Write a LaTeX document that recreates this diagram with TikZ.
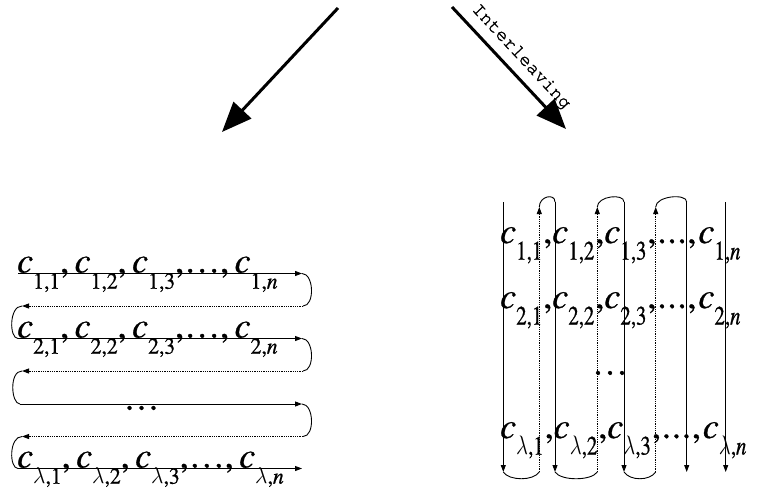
\RequirePackage{fix-cm}
\documentclass[tikz,border=0pt]{standalone}
\usepackage{graphicx}
\usepackage{fontspec}
\setmainfont{texgyretermes}[Extension=.otf, UprightFont=*-regular, ItalicFont=*-italic, BoldFont=*-bold, BoldItalicFont=*-bolditalic, FakeBold=0.8]
\newfontfamily\monofont{texgyrecursor}[Extension=.otf, UprightFont=*-regular, FakeBold=1.5]
\usetikzlibrary{arrows.meta}

% c with a lowered subscript (row-wise block and column-wise block)
\newcommand\ctL[1]{\textit{c}\raisebox{-0.45em}{\scalebox{0.6}[0.64]{#1}}}
\newcommand\ctR[1]{\textit{c}\raisebox{-0.46em}{\scalebox{0.58}[0.74]{#1}}\kern1pt}
\newcommand\lam{$\lambda$}
\newcommand\sepL{,\kern5.5pt}
\newcommand\dotsL{,…,\kern5.5pt}
\newcommand\dotsR{,\kern1pt.\kern1pt.\kern1pt.\kern1pt,\kern2pt}

\tikzset{
  thinline/.style={line width=0.9pt},
  dotline/.style={line width=0.9pt, dash pattern=on 0.9pt off 0.9pt},
  tip/.style={-{Triangle[length=7pt,width=5pt]}},
  bigarrow/.style={line width=3pt, -{Triangle[length=30pt,width=24pt]}},
  rowL/.style={inner sep=0pt, anchor=base west, font=\fontsize{36}{36}\selectfont},
  rowR/.style={inner sep=0pt, anchor=base west, font=\fontsize{36}{36}\selectfont},
}

\begin{document}
\begin{tikzpicture}[x=1pt,y=-1pt]
\useasboundingbox (0,0) rectangle (768,492);

% two big arrows from the top
\coordinate (la0) at (338,8);
\coordinate (la1) at (222,132);
\coordinate (ra0) at (452,7);
\coordinate (ra1) at (566,129);
\draw[bigarrow] (la0) -- (la1);
\draw[bigarrow] (ra0) -- (ra1);
\node[font=\monofont\fontsize{19}{19}\selectfont, rotate=-47, inner sep=0pt] (ilv) at (521,57) {Interleaving};

% ---------- row-by-row block ----------
\node[rowL] (ra) at (17,272.5) {\ctL{1,1}\sepL\ctL{1,2}\sepL\ctL{1,3}\dotsL\ctL{1,\textit{n}}};
\node[rowL] (rb) at (17,337.5) {\ctL{2,1}\sepL\ctL{2,2}\sepL\ctL{2,3}\dotsL\ctL{2,\textit{n}}};
\node[rowL, anchor=center] (rdots) at (141.5,408) {…};
\node[rowL] (rl) at (17,467.5) {\ctL{\lam,1}\sepL\ctL{\lam,2}\sepL\ctL{\lam,3}\dotsL\ctL{\lam,\textit{n}}};

\coordinate (s1w) at (18,273.5);  \coordinate (s1e) at (302,273.5);
\coordinate (d1e) at (303,306);   \coordinate (d1w) at (22,306);
\coordinate (s2w) at (18,338.5);  \coordinate (s2e) at (302,338.5);
\coordinate (d2e) at (303,371);   \coordinate (d2w) at (22,371);
\coordinate (s3w) at (20,404);    \coordinate (s3e) at (302,404);
\coordinate (d3e) at (303,436.5); \coordinate (d3w) at (22,436.5);
\coordinate (s4w) at (18,468.5);  \coordinate (s4e) at (302,468.5);

\foreach \a/\b in {s1w/s1e,s2w/s2e,s3w/s3e,s4w/s4e}
  \draw[thinline,tip] (\a) -- (\b);
\foreach \a/\b in {d1e/d1w,d2e/d2w,d3e/d3w}
  \draw[dotline,tip] (\a) -- (\b);
\foreach \a/\b in {s1e/d1e,s2e/d2e,s3e/d3e}
  \draw[thinline] (\a) .. controls +(12,0) and +(12,0) .. (\b);
\foreach \a/\b in {d1w/s2w,d2w/s3w,d3w/s4w}
  \draw[thinline] (\a) .. controls +(-13,0) and +(-9,0) .. (\b);

% ---------- column-by-column block ----------
\node[rowR] (ca) at (500,243) {\ctR{1,1},\ctR{1,2},\ctR{1,3}\dotsR\ctR{1,\textit{n}}};
\node[rowR] (cb) at (500,308) {\ctR{2,1},\ctR{2,2},\ctR{2,3}\dotsR\ctR{2,\textit{n}}};
\node[rowR, anchor=center] (cdots) at (610,373) {…};
\node[rowR] (cl) at (500,438) {\ctR{\lam,1},\ctR{\lam,2},\ctR{\lam,3}\dotsR\ctR{\lam,\textit{n}}};

% solid columns run downwards, dotted ones back upwards
\foreach \n/\x in {1/503.3,3/555,5/624,7/686.7,8/725.7}{
  \coordinate (t\n) at (\x,202);
  \coordinate (b\n) at (\x,472);
  \draw[thinline,tip] (t\n) -- (b\n);
}
\foreach \n/\x in {2/539.3,4/597.3,6/655.7}{
  \coordinate (b\n) at (\x,472);
  \coordinate (t\n) at (\x,207);
  \draw[dotline,tip] (b\n) -- (t\n);
}
% turn-arounds at the bottom and top
\foreach \a/\b in {b1/b2,b3/b4,b5/b6}
  \draw[thinline] (\a) .. controls +(6,9) and +(-6,9) .. (\b);
\foreach \a/\b in {t2/t3,t4/t5,t6/t7}
  \draw[thinline] (\a) .. controls +(0,-11) and +(0,-9) .. (\b);
\end{tikzpicture}
\end{document}
